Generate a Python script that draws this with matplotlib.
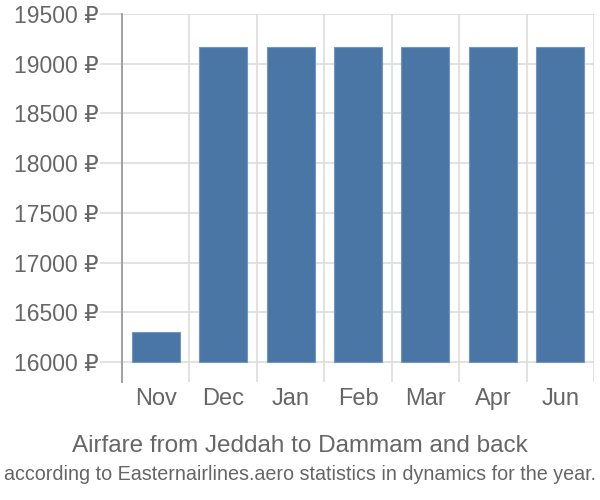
import matplotlib
matplotlib.use("Agg")
import matplotlib.pyplot as plt
import numpy as np

plt.rcParams['font.family'] = ['Liberation Sans', 'DejaVu Sans']

months = ["Nov", "Dec", "Jan", "Feb", "Mar", "Apr", "Jun"]
prices = [16300, 19170, 19170, 19170, 19170, 19170, 19170]
yticks = [16000, 16500, 17000, 17500, 18000, 18500, 19000, 19500]
title = "Airfare from Jeddah to Dammam and back"
subtitle = "according to Easternairlines.aero statistics in dynamics for the year."

fig = plt.figure(figsize=(6, 5), dpi=100)
ax = fig.add_axes([122/600, 1-382/500, (594-122)/600, (382-14)/500])

base = 16000
x = np.arange(len(months))
ax.bar(x, [p - base for p in prices], bottom=base, width=0.71,
       color='#4a76a5', edgecolor='#7396c0', linewidth=0.8, zorder=3)

ax.set_xlim(-0.5, len(months) - 0.5)
ax.set_ylim(15800, 19500)

ax.set_yticks(yticks)
ax.set_yticklabels([f"{v} ₽" for v in yticks])
ax.set_xticks(x)
ax.set_xticklabels(months)
ax.set_xticks(np.arange(len(months) + 1) - 0.5, minor=True)

ax.grid(axis='y', which='major', color='#dddddd', linewidth=1.2, zorder=0)
ax.grid(axis='x', which='minor', color='#dddddd', linewidth=1.2, zorder=0)

ax.tick_params(axis='y', which='major', length=16, color='#dddddd', width=1.2,
               labelsize=16.5, labelcolor='#666666', pad=1)
ax.tick_params(axis='x', which='major', length=0, labelsize=17,
               labelcolor='#666666', pad=4)
ax.tick_params(axis='x', which='minor', length=0)

for s in ['top', 'right', 'bottom']:
    ax.spines[s].set_visible(False)
ax.spines['left'].set_color('#999999')
ax.spines['left'].set_linewidth(1.3)

fig.text(0.5, 1-446/500, title, ha='center', va='center', fontsize=17.5, color='#666666')
fig.text(0.5, 1-475/500, subtitle, ha='center', va='center', fontsize=14.2,
         color='#666666')

fig.savefig("out.png", dpi=100)
